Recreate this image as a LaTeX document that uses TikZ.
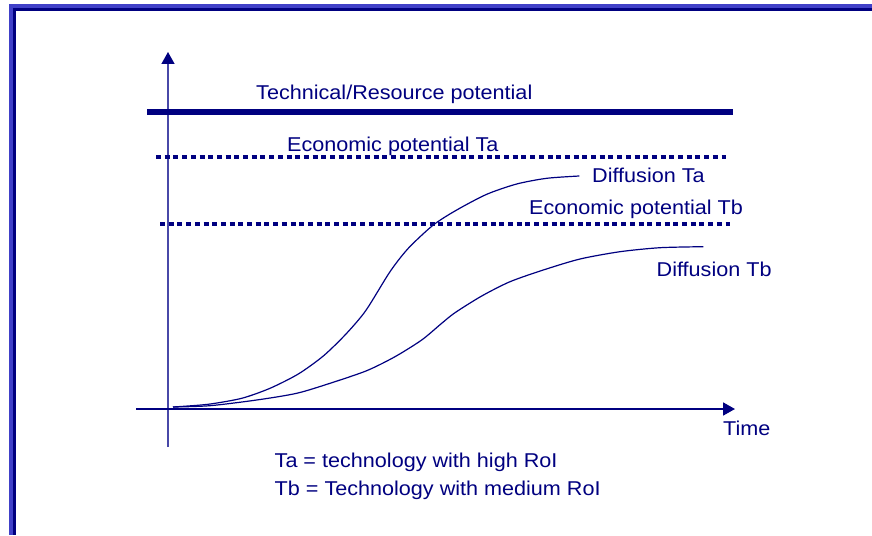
\documentclass[tikz,border=0pt]{standalone}
\usepackage{fontspec}
\setmainfont{Liberation Sans}[FakeStretch=1.08]
\usetikzlibrary{arrows.meta}
\definecolor{navy}{RGB}{0,0,128}
\definecolor{framelight}{RGB}{64,64,200}
\definecolor{axislight}{RGB}{72,72,168}
\tikzset{
  lbl/.style={anchor=base west,inner sep=0pt,text=navy,font=\fontsize{20}{24}\selectfont},
  potline/.style={draw=navy,line width=4pt,dash pattern=on 5pt off 3.7pt},
  curve/.style={draw=navy,line width=1.2pt,smooth,tension=0.45},
  axistip/.style={-{Triangle[length=12pt,width=13pt,color=navy]}}
}
\begin{document}
\begin{tikzpicture}[x=1pt,y=-1pt]
\useasboundingbox (0,0) rectangle (872,535);
\fill[white] (0,0) rectangle (872,535);
% frame
\fill[framelight] (9,4) rectangle (872,8);
\fill[framelight] (9,4) rectangle (13,535);
\fill[navy] (13,8) rectangle (872,11);
\fill[navy] (13,8) rectangle (16,535);
% axes
\coordinate (ybot) at (168,447);
\coordinate (ytop) at (168,52);
\coordinate (xleft) at (136,409);
\coordinate (xright) at (735,409);
\draw[axistip,draw=axislight,line width=1.4pt] (ybot) -- (ytop);
\draw[axistip,draw=navy,line width=1.8pt] (xleft) -- (xright);
% potential lines
\coordinate (tl) at (147,112);
\coordinate (tr) at (733,112);
\draw[navy,line width=6pt] (tl) -- (tr);
\coordinate (eal) at (156,156.7);
\coordinate (ear) at (726,156.7);
\draw[potline] (eal) -- (ear);
\coordinate (ebl) at (160,224.3);
\coordinate (ebr) at (730,224.3);
\draw[potline] (ebl) -- (ebr);
% curves
\draw[curve] plot coordinates {(173,407) (208,404.3) (241.7,398.3) (270,388.3) (298.3,374) (323.3,356) (345.7,334.3) (365.7,310.7) (390,271.7) (408.3,248.3) (433.3,225) (456.7,210) (486.7,194.3) (516.7,184) (546.7,178.3) (579.3,176)};
\draw[curve] plot coordinates {(173,407) (210,405.7) (256.7,400) (296.7,393.3) (330,383.3) (366.7,370.7) (395,356.7) (421.7,340) (441.7,323.3) (455,312.7) (481.7,296) (510,281.7) (543.3,270) (580,259) (620,251.7) (660,247.7) (703.3,246.7)};
% labels
\node[lbl] (ttech) at (256,99) {Technical/Resource potential};
\node[lbl] (teca) at (287,151) {Economic potential Ta};
\node[lbl] (tdifa) at (592,182) {Diffusion Ta};
\node[lbl] (tecb) at (529,214) {Economic potential Tb};
\node[lbl] (tdifb) at (656.5,276.7) {Diffusion Tb};
\node[lbl] (ttime) at (723,435) {Time};
\node[lbl] (tleg1) at (274.5,467.3) {Ta = technology with high RoI};
\node[lbl] (tleg2) at (274.5,495) {Tb = Technology with medium RoI};
\end{tikzpicture}
\end{document}
